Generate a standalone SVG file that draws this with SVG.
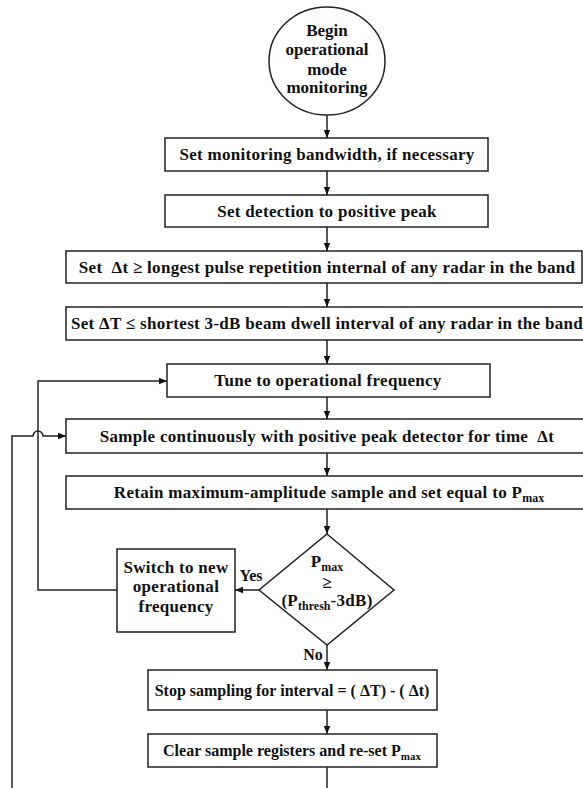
<svg xmlns="http://www.w3.org/2000/svg" width="583" height="788" viewBox="0 0 583 788">
<style>
.b{fill:#fff;stroke:#222;stroke-width:1.5}
.t{font-family:"Liberation Serif","Times New Roman",serif;font-weight:bold;font-size:16px;fill:#111;text-anchor:middle}
.w{font-size:17px;letter-spacing:0.3px}
.s{font-size:11px;letter-spacing:0}
.s2{font-size:12px;letter-spacing:0}
.c{fill:none;stroke:#222;stroke-width:1.5}
</style>
<defs>
<marker id="a" viewBox="0 0 8 8" refX="8" refY="4" markerWidth="8" markerHeight="8" markerUnits="userSpaceOnUse" orient="auto">
<path d="M0,0.8 L8,4 L0,7.2 Z" fill="#111"/>
</marker>
</defs>
<rect width="583" height="788" fill="#fff"/>
<g id="connectors">
<path class="c" d="M327,115 V138" marker-end="url(#a)"/>
<path class="c" d="M327,171 V195" marker-end="url(#a)"/>
<path class="c" d="M327,227 V251" marker-end="url(#a)"/>
<path class="c" d="M327,283 V307" marker-end="url(#a)"/>
<path class="c" d="M327,340 V364" marker-end="url(#a)"/>
<path class="c" d="M327,397 V419" marker-end="url(#a)"/>
<path class="c" d="M327,453 V476" marker-end="url(#a)"/>
<path class="c" d="M327,509 V534" marker-end="url(#a)"/>
<path class="c" d="M327,645 V670" marker-end="url(#a)"/>
<path class="c" d="M327,710 V734" marker-end="url(#a)"/>
<path class="c" d="M327,767 V790"/>
<path class="c" d="M259,590 H235" marker-end="url(#a)"/>
<path class="c" d="M117,590 H38 V381 H167" marker-end="url(#a)"/>
<path class="c" d="M12,790 V436 H33 A5,5 0 0 1 43,436 H66" marker-end="url(#a)"/>
<text class="t" x="251" y="581">Yes</text>
<text class="t" x="313" y="660">No</text>
</g>
<g id="start">
<ellipse class="b" cx="327" cy="61" rx="58" ry="54"/>
<text class="t" x="327" y="36" style="font-size:17px">Begin</text>
<text class="t" x="327" y="55" style="font-size:17px">operational</text>
<text class="t" x="327" y="75" style="font-size:17px">mode</text>
<text class="t" x="327" y="93" style="font-size:17px">monitoring</text>
</g>
<g id="n1">
<rect class="b" x="165" y="138" width="323" height="33"/>
<text class="t w" x="327" y="160">Set monitoring bandwidth, if necessary</text>
</g>
<g id="n2">
<rect class="b" x="165" y="195" width="323" height="32"/>
<text class="t w" x="327" y="217">Set detection to positive peak</text>
</g>
<g id="n3">
<rect class="b" x="66" y="251" width="516" height="32"/>
<text class="t w" x="327" y="273" xml:space="preserve">Set  Δt ≥ longest pulse repetition internal of any radar in the band</text>
</g>
<g id="n4">
<rect class="b" x="66" y="307" width="530" height="33"/>
<text class="t w" x="327" y="329">Set  ΔT ≤ shortest 3-dB beam dwell interval of any radar in the band</text>
</g>
<g id="n5">
<rect class="b" x="167" y="364" width="323" height="33"/>
<text class="t w" x="328" y="386">Tune to operational frequency</text>
</g>
<g id="n6">
<rect class="b" x="66" y="419" width="530" height="34"/>
<text class="t w" x="327" y="442" xml:space="preserve">Sample continuously with positive peak detector for time  Δt</text>
</g>
<g id="n7">
<rect class="b" x="66" y="476" width="530" height="33"/>
<text class="t w" x="329" y="498">Retain maximum-amplitude sample and set equal to P<tspan class="s2" dy="4">max</tspan></text>
</g>
<g id="decision">
<path class="b" d="M327,534 L394,590 L327,645 L259,590 Z"/>
<text class="t w" x="327" y="567">P<tspan class="s2" dy="4">max</tspan></text>
<text class="t w" x="327" y="588">≥</text>
<text class="t w" x="327" y="606">(P<tspan class="s2" dy="4">thresh</tspan><tspan dy="-4">-3dB)</tspan></text>
</g>
<g id="n8">
<rect class="b" x="117" y="549" width="118" height="83"/>
<text class="t w" x="176" y="573">Switch to new</text>
<text class="t w" x="176" y="592">operational</text>
<text class="t w" x="176" y="612">frequency</text>
</g>
<g id="n9">
<rect class="b" x="148" y="670" width="289" height="40"/>
<text class="t" x="292" y="696">Stop sampling for interval = ( ΔT) - ( Δt)</text>
</g>
<g id="n10">
<rect class="b" x="148" y="734" width="289" height="33"/>
<text class="t" x="292" y="756">Clear sample registers and re-set P<tspan class="s" dy="4">max</tspan></text>
</g>
</svg>
